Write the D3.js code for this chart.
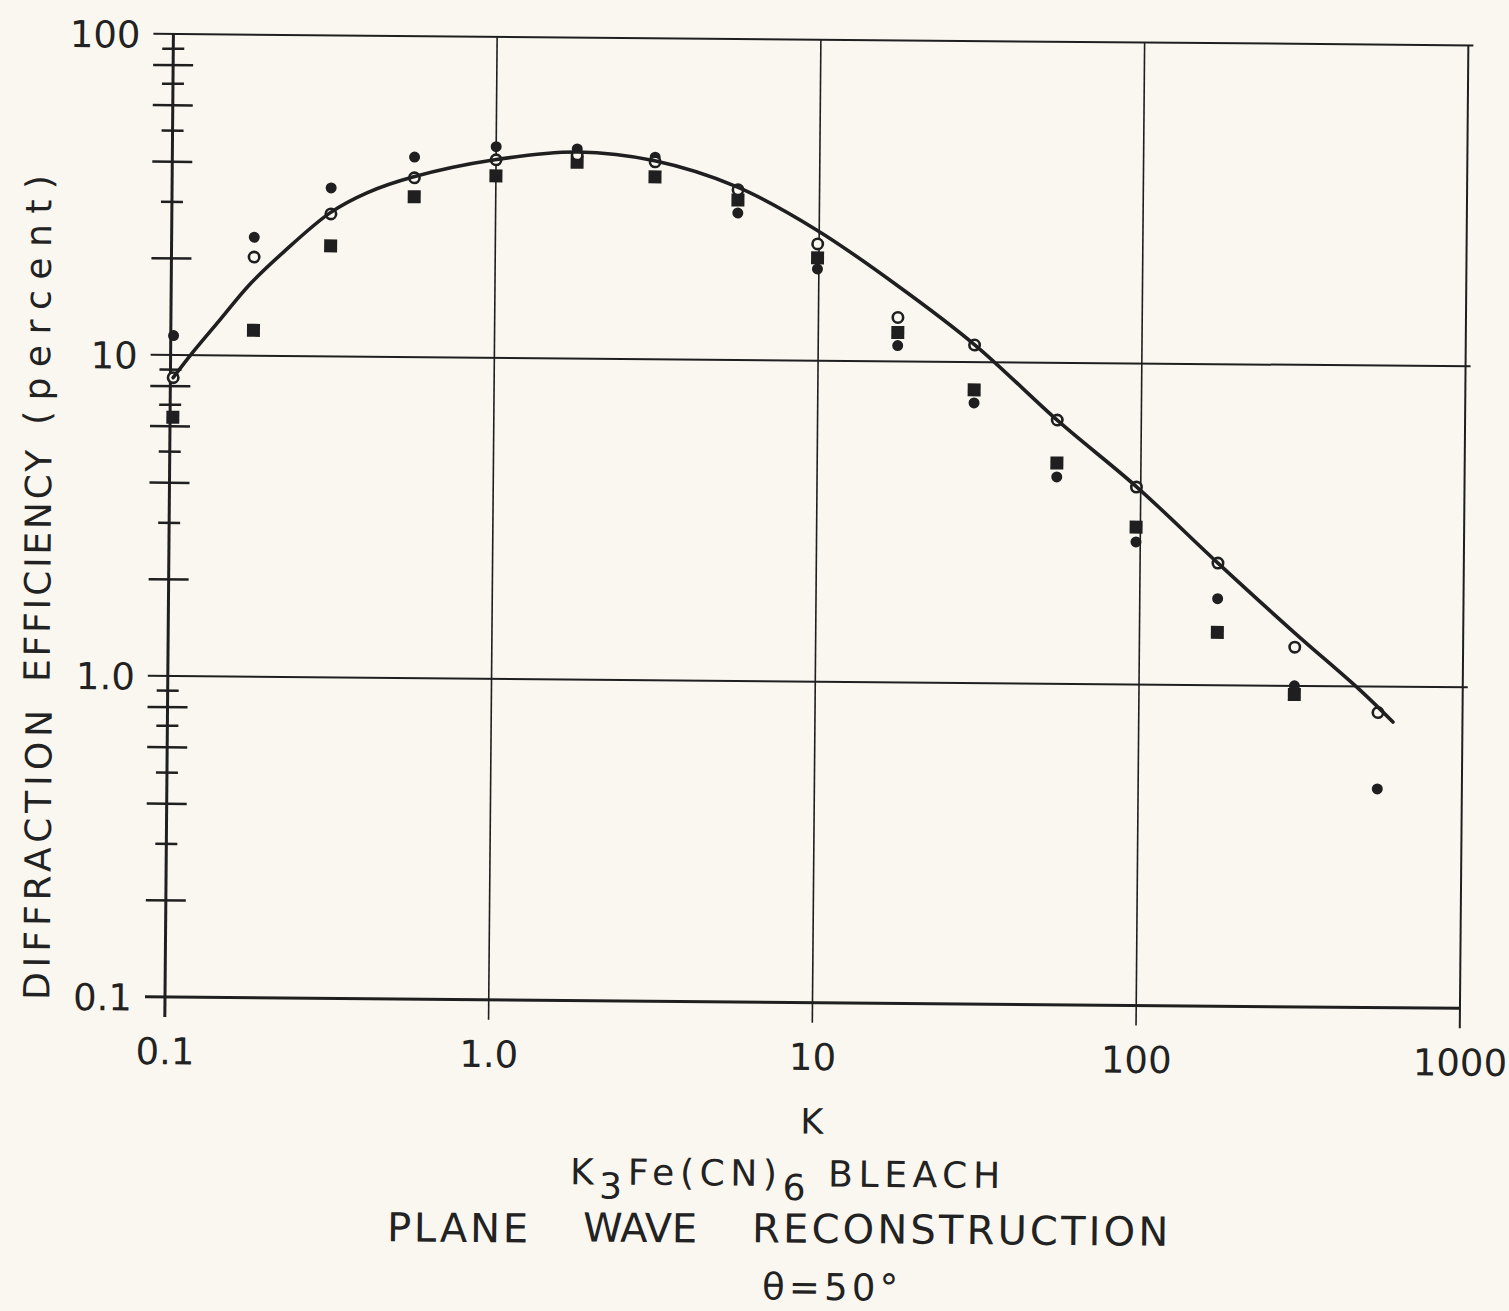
<!DOCTYPE html>
<html>
<head>
<meta charset="utf-8">
<script src="https://cdn.jsdelivr.net/npm/d3@7"></script>
<style>
  html, body { margin: 0; padding: 0; background: #f9f7f0; }
  svg { display: block; }
  text { font-family: "DejaVu Sans", "Liberation Sans", sans-serif; fill: #222; }
</style>
</head>
<body>
<svg id="chart" width="1509" height="1311"></svg>
<script>
// Exposure parameter K at which each set of measurements was taken
const kValues = [0.102, 0.18, 0.31, 0.56, 1.0, 1.78, 3.1, 5.6, 9.9, 17.6, 30.4, 55, 97, 174, 302, 548];

// Diffraction efficiency (percent) for the three sample sets
const dotEff    = [11.5, 23.4, 33.5, 42.0, 45.5, 45.0, 42.6, 28.7, 19.3, 11.2, 7.46, 4.41, 2.78, 1.86, 1.0, 0.48];
const circleEff = [8.5, 20.3, 27.8, 36.2, 41.4, 43.1, 41.2, 33.9, 23.1, 13.7, 11.3, 6.63, 4.12, 2.40, 1.32, 0.83];
const squareEff = [6.4, 12.0, 22.1, 31.6, 36.9, 40.9, 37.0, 31.5, 20.9, 12.3, 8.19, 4.87, 3.09, 1.46, 0.94, null];

// Theoretical curve
const curveK   = [0.102, 0.117, 0.139, 0.175, 0.221, 0.308, 0.40, 0.554, 0.99, 1.79, 3.09, 5.56, 9.84, 17.4, 30.5, 55.2, 97.3, 174, 302, 481, 610];
const curveEff = [8.5, 10.2, 12.6, 16.7, 21.0, 28.0, 32.4, 36.4, 41.4, 44.0, 41.5, 34.6, 25.5, 17.3, 11.3, 6.6, 4.12, 2.40, 1.46, 0.975, 0.776];

// Axis ticks
const xTickValues = [0.1, 1, 10, 100, 1000];
const xTickLabels = ["0.1", "1.0", "10", "100", "1000"];
const yTickValues = [0.1, 1, 10, 100];
const yTickLabels = ["0.1", "1.0", "10", "100"];

// Captions
const xTitle = "K";
const yTitleWords = ["DIFFRACTION", "EFFICIENCY", "(percent)"];
const captionWords = ["PLANE", "WAVE", "RECONSTRUCTION"];
const captionAngle = "\u03B8=50\u00B0";

const INK = "#1f1f1f";
const PAPER = "#f9f7f0";
const FONT = '"DejaVu Sans", "Liberation Sans", sans-serif';
const W = 1295, H = 963;

const svg = d3.select("#chart");
svg.append("rect").attr("width", 1509).attr("height", 1311).attr("fill", PAPER);

// plot frame, origin at the lower-left corner, slightly tilted
const g = svg.append("g").attr("transform", "translate(165,997) rotate(0.5)");

const x = d3.scaleLog().domain([0.1, 1000]).range([0, W]);
const y = d3.scaleLog().domain([0.1, 100]).range([0, -H]);

// horizontal decade lines
g.selectAll("line.hgrid").data(yTickValues).join("line")
  .attr("class", "hgrid")
  .attr("x1", -20).attr("x2", d => d === 0.1 ? W : W + 5)
  .attr("y1", d => y(d)).attr("y2", d => y(d))
  .attr("stroke", INK)
  .attr("stroke-width", d => d === 0.1 ? 3 : 2);

// vertical decade lines
g.selectAll("line.vgrid").data(xTickValues).join("line")
  .attr("class", "vgrid")
  .attr("x1", d => x(d)).attr("x2", d => x(d))
  .attr("y1", -H).attr("y2", 20)
  .attr("stroke", INK)
  .attr("stroke-width", d => d === 0.1 ? 3 : (d === 1000 ? 2 : 1.6));

// minor ticks crossing the left axis: long on even multiples, short on odd
const leadDigit = v => Math.round(v / Math.pow(10, Math.floor(Math.log10(v) + 1e-9)));
const minor = y.ticks().filter(v => leadDigit(v) !== 1);
g.selectAll("line.minor").data(minor).join("line")
  .attr("class", "minor")
  .attr("x1", d => leadDigit(d) % 2 === 0 ? -20 : -11)
  .attr("x2", d => leadDigit(d) % 2 === 0 ? 20 : 11)
  .attr("y1", d => y(d)).attr("y2", d => y(d))
  .attr("stroke", INK).attr("stroke-width", 2.5);

// tick labels via d3 axes
const xAxis = d3.axisBottom(x).tickValues(xTickValues)
  .tickFormat((d, i) => xTickLabels[i]).tickSize(0).tickPadding(41);
const xa = g.append("g").call(xAxis);
xa.select(".domain").remove();
xa.selectAll("text").attr("font-size", 37).attr("fill", "#222").attr("font-family", FONT);

const yAxis = d3.axisLeft(y).tickValues(yTickValues)
  .tickFormat((d, i) => yTickLabels[i]).tickSize(0).tickPadding(33);
const ya = g.append("g").call(yAxis);
ya.select(".domain").remove();
ya.selectAll("text").attr("font-size", 37).attr("fill", "#222").attr("font-family", FONT)
  .attr("dy", "0.36em");

// measured points
const sq = 13;
g.selectAll("rect.sq").data(kValues.map((k, i) => [k, squareEff[i]]).filter(d => d[1] != null)).join("rect")
  .attr("class", "sq")
  .attr("x", d => x(d[0]) - sq / 2).attr("y", d => y(d[1]) - sq / 2)
  .attr("width", sq).attr("height", sq).attr("fill", INK);

g.selectAll("circle.dot").data(kValues.map((k, i) => [k, dotEff[i]])).join("circle")
  .attr("class", "dot")
  .attr("cx", d => x(d[0])).attr("cy", d => y(d[1])).attr("r", 5.5)
  .attr("fill", INK);

g.selectAll("circle.open").data(kValues.map((k, i) => [k, circleEff[i]])).join("circle")
  .attr("class", "open")
  .attr("cx", d => x(d[0])).attr("cy", d => y(d[1])).attr("r", 5.2)
  .attr("fill", PAPER).attr("stroke", INK).attr("stroke-width", 2.6);

// theoretical curve, inked over the points
const line = d3.line()
  .x(d => x(d[0])).y(d => y(d[1]))
  .curve(d3.curveCatmullRom.alpha(0.5));
g.append("path")
  .datum(curveK.map((k, i) => [k, curveEff[i]]))
  .attr("d", line)
  .attr("fill", "none").attr("stroke", INK).attr("stroke-width", 3.6)
  .attr("stroke-linecap", "round");

// x axis title
g.append("text").attr("x", 648).attr("y", 131).attr("text-anchor", "middle")
  .attr("font-size", 35).text(xTitle);

// y axis title, one word at a time
const yTitlePos = [
  { x: -115.7, y: -140.9, len: 290 },
  { x: -118.3, y: -429.9, len: 232 },
  { x: -120.6, y: -695.9, len: 250 }
];
g.selectAll("text.ytitle").data(yTitleWords).join("text")
  .attr("class", "ytitle")
  .attr("transform", (d, i) => `translate(${yTitlePos[i].x},${yTitlePos[i].y}) rotate(-90)`)
  .attr("text-anchor", "middle")
  .attr("font-size", 36)
  .attr("textLength", (d, i) => yTitlePos[i].len).attr("lengthAdjust", "spacing")
  .text(d => d);

// chemical formula line
const bleach = g.append("text").attr("x", 621.6).attr("y", 183.6)
  .attr("text-anchor", "middle").attr("font-size", 36)
  .attr("textLength", 430).attr("lengthAdjust", "spacing")
  .style("white-space", "pre");
bleach.append("tspan").text("K");
bleach.append("tspan").attr("dy", 14).text("3");
bleach.append("tspan").attr("dy", -14).text("Fe(CN)");
bleach.append("tspan").attr("dy", 14).text("6");
bleach.append("tspan").attr("dy", -14).text(" BLEACH");

// reconstruction caption, word by word
const captionPos = [
  { x: 294.6, y: 242.4, len: 141 },
  { x: 477.1, y: 240.9, len: 114 },
  { x: 797.2, y: 240.1, len: 416 }
];
g.selectAll("text.caption").data(captionWords).join("text")
  .attr("class", "caption")
  .attr("x", (d, i) => captionPos[i].x).attr("y", (d, i) => captionPos[i].y)
  .attr("text-anchor", "middle").attr("font-size", 40)
  .attr("textLength", (d, i) => captionPos[i].len).attr("lengthAdjust", "spacing")
  .text(d => d);

g.append("text").attr("x", 667.6).attr("y", 297.2).attr("text-anchor", "middle")
  .attr("font-size", 37).attr("textLength", 136).attr("lengthAdjust", "spacing")
  .text(captionAngle);
</script>
</body>
</html>
